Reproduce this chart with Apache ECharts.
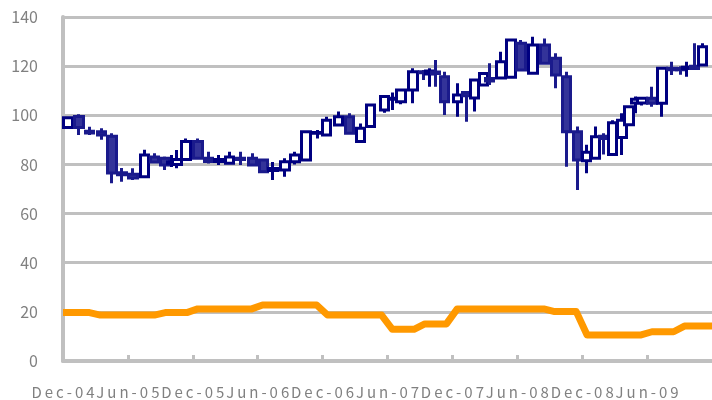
<!DOCTYPE html>
<html>
<head>
<meta charset="utf-8">
<script src="https://cdn.jsdelivr.net/npm/echarts@6/dist/echarts.min.js"></script>
<style>
  html, body { margin: 0; padding: 0; background: #fff; }
  #chart { width: 712px; height: 400px; }
</style>
</head>
<body>
<div id="chart"></div>
<script>
// tick labels, one every 6 months starting Dec-04
var tickLabels = ['Dec-04', 'Jun-05', 'Dec-05', 'Jun-06', 'Dec-06', 'Jun-07', 'Dec-07', 'Jun-08', 'Dec-08', 'Jun-09'];

// candle dates as months after Dec-04
var candleMonth = [0.46, 1.47, 2.47, 3.58, 4.54, 5.45, 6.46, 7.52, 8.48, 9.44,
    10.08, 10.54, 11.37, 12.47, 13.47, 14.39, 15.40, 16.41, 17.51, 18.52,
    19.43, 20.53, 21.45, 22.46, 23.56, 24.38, 25.48, 26.49, 27.50, 28.41,
    29.70, 30.52, 31.26, 32.36, 33.36, 33.91, 34.46, 35.29, 36.48, 37.31,
    38.04, 38.86, 39.41, 40.51, 41.43, 42.35, 43.45, 44.55, 45.56, 46.56,
    47.57, 48.40, 49.22, 49.95, 50.78, 51.70, 52.34, 52.98, 53.53, 54.45,
    55.36, 56.28, 57.10, 57.65, 58.39, 59.12];
var openVals = [95, 99.5, 93.5, 93.3, 91.5, 76.6, 76, 75, 83, 82.5,
    80.5, 80, 82, 89.3, 82.5, 81.2, 80.5, 82.5, 82.5, 81.8,
    77.5, 77.7, 81.1, 81.8, 92.7, 92, 96, 99.4, 89.3, 95.4,
    102.2, 106.5, 105.5, 110.3, 117.7, 116.8, 117.6, 115.7, 105.5, 109.3,
    107, 112.3, 115, 115.2, 115.5, 129.3, 117.1, 128.6, 123.2, 115.7,
    93.3, 81.5, 82.5, 91.5, 84, 91, 96.1, 105, 105, 106.9,
    104.9, 119.1, 119, 119, 120, 120.5];
var closeVals = [99, 95, 92.8, 92, 76.5, 75.8, 74.5, 83.8, 81, 79.8,
    81, 82, 89.3, 82.5, 81.2, 82, 83, 82, 79.8, 77,
    78.3, 81.1, 83.8, 93.3, 93, 98, 99.4, 92.7, 94.7, 104.2,
    107.6, 106.9, 110.3, 117.7, 117.3, 118, 117, 105.5, 108.3, 108,
    114.4, 117, 114, 121.8, 130.6, 118.4, 128.6, 121.2, 116.4, 93.3,
    81.8, 85, 91.3, 90.6, 97, 98, 103.5, 106.5, 106.9, 104.9,
    119.1, 118.5, 118.5, 119.5, 119, 127.9];
var lowVals = [94.8, 92, 92, 90, 72.3, 73, 73.7, 74.8, 80.5, 77.7,
    79, 78.4, 81.8, 82, 80.4, 79.8, 80, 79.8, 79.8, 77,
    73.7, 75, 80, 81.8, 90.6, 92, 95.4, 92.7, 89.3, 95.4,
    101, 102.2, 104.5, 104.9, 114.4, 111.6, 111.6, 100.1, 99.4, 97.4,
    101.5, 112, 112.3, 115, 115, 118, 117, 121, 111, 79.1,
    69.6, 76.4, 82.5, 84, 83.8, 83.8, 96, 100.8, 104, 103.5,
    99.4, 116.4, 116.5, 115.7, 118.4, 120];
var highVals = [99.3, 100.4, 95.3, 94.7, 92.7, 78.5, 78.4, 86, 84.5, 83.2,
    83.8, 85.9, 90.6, 90.6, 85.2, 83.8, 85.2, 85.2, 84.5, 81.8,
    81, 82.5, 85.2, 93.3, 94, 99.4, 101.5, 100.8, 96.7, 104.5,
    108, 109.3, 110.8, 119.1, 118.4, 119.1, 122.5, 117.7, 113, 109.6,
    115, 117.5, 121.2, 125.9, 130.6, 130.6, 132, 131.3, 125.2, 117.7,
    95.4, 88, 95.4, 92.7, 98, 100.8, 104, 107.6, 107, 111.6,
    119.5, 121.8, 120, 121.8, 129.3, 129.3];

// orange line, one value per month from Dec-04 (plotted mid-month)
var lineVals = [19.7, 19.7, 19.7, 18.7, 18.7, 18.7, 18.7, 18.7, 18.7, 19.7,
    19.7, 19.7, 21.2, 21.2, 21.2, 21.2, 21.2, 21.2, 22.8, 22.8,
    22.8, 22.8, 22.8, 22.8, 18.7, 18.7, 18.7, 18.7, 18.7, 18.7,
    12.9, 12.9, 12.9, 15.1, 15.1, 15.1, 21.2, 21.2, 21.2, 21.2,
    21.2, 21.2, 21.2, 21.2, 21.2, 20.1, 20.1, 20.1, 10.6, 10.6,
    10.6, 10.6, 10.6, 10.6, 11.9, 11.9, 11.9, 14.2, 14.2, 14.2, 14.2];

var candleData = candleMonth.map(function (m, i) {
    return [m, openVals[i], closeVals[i], lowVals[i], highVals[i]];
});
var lineData = lineVals.map(function (v, i) {
    return [i === 0 ? 0 : i + 0.45, v];
});

function spaced(s) {
    return s.split('').join('\u2009');
}

var chart = echarts.init(document.getElementById('chart'));
var gray = '#c0c0c0';
var option = {
    animation: false,
    grid: { left: 63, right: -6, top: 17, bottom: 39 },
    xAxis: {
        type: 'value',
        min: 0,
        max: 60,
        interval: 6,
        splitLine: { show: false },
        axisLine: { lineStyle: { color: gray, width: 4 } },
        axisTick: { inside: true, length: 6, lineStyle: { color: gray, width: 3 } },
        axisLabel: {
            margin: 24,
            color: '#808080',
            fontSize: 15,
            fontFamily: 'Noto Sans CJK JP',
            showMaxLabel: false,
            formatter: function (v) {
                var t = tickLabels[v / 6];
                return t ? spaced(t) : '';
            }
        }
    },
    yAxis: {
        type: 'value',
        min: 0,
        max: 140,
        interval: 20,
        axisLine: { show: true, lineStyle: { color: gray, width: 4 } },
        axisTick: { show: false },
        splitLine: { lineStyle: { color: gray, width: 3 } },
        axisLabel: {
            margin: 25,
            color: '#808080',
            fontSize: 16,
            fontFamily: 'Noto Sans CJK JP'
        }
    },
    series: [
        {
            type: 'line',
            data: lineData,
            showSymbol: false,
            lineStyle: { color: '#ff9900', width: 7, join: 'round' },
            z: 3
        },
        {
            type: 'candlestick',
            data: candleData,
            encode: { x: 0, y: [1, 2, 3, 4] },
            barWidth: 9,
            itemStyle: {
                color: '#ffffff',
                color0: '#333399',
                borderColor: '#000080',
                borderColor0: '#1a1a8c',
                borderWidth: 3
            },
            z: 4
        }
    ]
};
chart.setOption(option);
</script>
</body>
</html>
